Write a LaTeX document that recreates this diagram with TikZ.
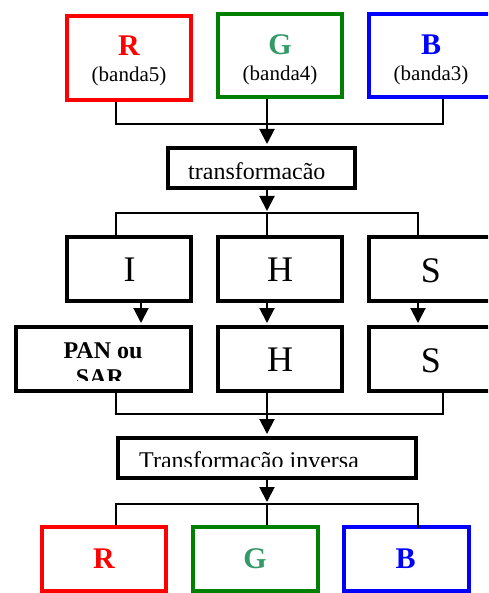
\documentclass[tikz,border=0pt]{standalone}
\usepackage{fontspec}
\setmainfont{Liberation Serif}
\usetikzlibrary{arrows.meta}
\definecolor{rred}{HTML}{FF0000}
\definecolor{gborder}{HTML}{008000}
\definecolor{gtext}{HTML}{339966}
\definecolor{bblue}{HTML}{0000FF}
\begin{document}
\begin{tikzpicture}[x=1pt,y=-1pt,
  box/.style={draw,line width=4pt,rectangle,inner sep=0pt,minimum width=124pt,minimum height=64pt},
  conn/.style={line width=2pt},
  arr/.style={conn,-{Triangle[width=15pt,length=15pt]},shorten >=2pt},
  lbl/.style={inner sep=0pt,anchor=base},
  bigf/.style={font=\fontsize{36}{40}\selectfont},
  midf/.style={font=\fontsize{24}{27.6}\selectfont},
  midbf/.style={font=\fontsize{24}{27.6}\selectfont\bfseries},
  smallf/.style={font=\fontsize{21}{24}\selectfont},
  rgbf/.style={font=\fontsize{30}{34}\selectfont\bfseries}]
\clip (0,0) rectangle (488,593);
% top colour boxes
\node[box,draw=rred,minimum height=84pt] (R) at (129,58) {};
\node[box,draw=gborder,minimum height=83pt] (G) at (280,55.5) {};
\node[box,draw=bblue,minimum height=83pt] (B) at (431,55.5) {};
\node[lbl,rgbf,text=rred] (tR) at (129,55.7) {R};
\node[lbl,smallf] (tR2) at (129,81.5) {(banda5)};
\node[lbl,rgbf,text=gtext] (tG) at (280,54.3) {G};
\node[lbl,smallf] (tG2) at (280,81) {(banda4)};
\node[lbl,rgbf,text=bblue] (tB) at (431,54.3) {B};
\node[lbl,smallf] (tB2) at (431,81) {(banda3)};
% transformation
\node[box,minimum width=187pt,minimum height=40pt] (trans) at (261.5,168) {};
\begin{scope}
  \clip (166,146) rectangle (357,178.5);
  \node[lbl,midf,anchor=base west] (tTrans) at (188,179.5) {transformação};
\end{scope}
% IHS row
\node[box] (I) at (129,269) {};
\node[box] (H1) at (280,269) {};
\node[box] (S1) at (431,269) {};
\node[lbl,bigf] (tI) at (129.5,281.7) {I};
\node[lbl,bigf] (tH1) at (280,281.7) {H};
\node[lbl,bigf] (tS1) at (431,282) {S};
% second row
\node[box,minimum width=175pt] (PAN) at (103.5,359) {};
\node[box] (H2) at (280,359) {};
\node[box] (S2) at (431,359) {};
\node[lbl,midbf] (tPAN) at (103,358) {PAN ou};
\begin{scope}
  \clip (14,325) rectangle (193,380);
  \node[lbl,midbf] (tSAR) at (100,385.6) {SAR};
\end{scope}
\node[lbl,bigf] (tH2) at (280,371.7) {H};
\node[lbl,bigf] (tS2) at (431,372) {S};
% inverse transformation
\node[box,minimum width=298pt,minimum height=40pt] (inv) at (267,458) {};
\begin{scope}
  \clip (116,436) rectangle (418,466.5);
  \node[lbl,midf,anchor=base west] (tInv) at (139,468) {Transformação inversa};
\end{scope}
% bottom colour boxes
\node[box,draw=rred] (bR) at (104,559) {};
\node[box,draw=gborder,minimum width=125pt] (bG) at (255.5,559) {};
\node[box,draw=bblue,minimum width=125pt] (bB) at (406.5,559) {};
\node[lbl,rgbf,text=rred] (tbR) at (104,568) {R};
\node[lbl,rgbf,text=gtext] (tbG) at (255,568) {G};
\node[lbl,rgbf,text=bblue] (tbB) at (405.5,568) {B};
% connectors top -> transformation
\coordinate (a1) at (116,124);
\coordinate (a2) at (267,124);
\coordinate (a3) at (443,124);
\draw[conn] (R.south -| a1) -- (a1) -- (a3) -- (B.south -| a3);
\draw[arr] (G.south -| a2) -- (trans.north -| a2);
% transformation -> IHS
\coordinate (b1) at (116,213);
\coordinate (b2) at (267,213);
\coordinate (b3) at (418,213);
\draw[arr] (trans.south -| b2) -- (b2);
\draw[conn] (I.north -| b1) -- (b1) -- (b3) -- (S1.north -| b3);
\draw[conn] (b2) -- (H1.north -| b2);
% IHS -> second row
\draw[arr] ([xshift=12pt]I.south) -- ([xshift=12pt]I.south |- PAN.north);
\draw[arr] ([xshift=-13pt]H1.south) -- ([xshift=-13pt]H1.south |- H2.north);
\draw[arr] ([xshift=-13pt]S1.south) -- ([xshift=-13pt]S1.south |- S2.north);
% second row -> inverse
\coordinate (d1) at (116,414);
\coordinate (d2) at (267,414);
\coordinate (d3) at (443,414);
\draw[conn] (PAN.south -| d1) -- (d1) -- (d3) -- (S2.south -| d3);
\draw[arr] (H2.south -| d2) -- (inv.north -| d2);
% inverse -> bottom
\coordinate (e1) at (116,504);
\coordinate (e2) at (267,504);
\coordinate (e3) at (418,504);
\draw[arr] (inv.south -| e2) -- (e2);
\draw[conn] (bR.north -| e1) -- (e1) -- (e3) -- ([yshift=-3pt]bB.north -| e3);
\draw[conn] (e2) -- (bG.north -| e2);
\end{tikzpicture}
\end{document}
